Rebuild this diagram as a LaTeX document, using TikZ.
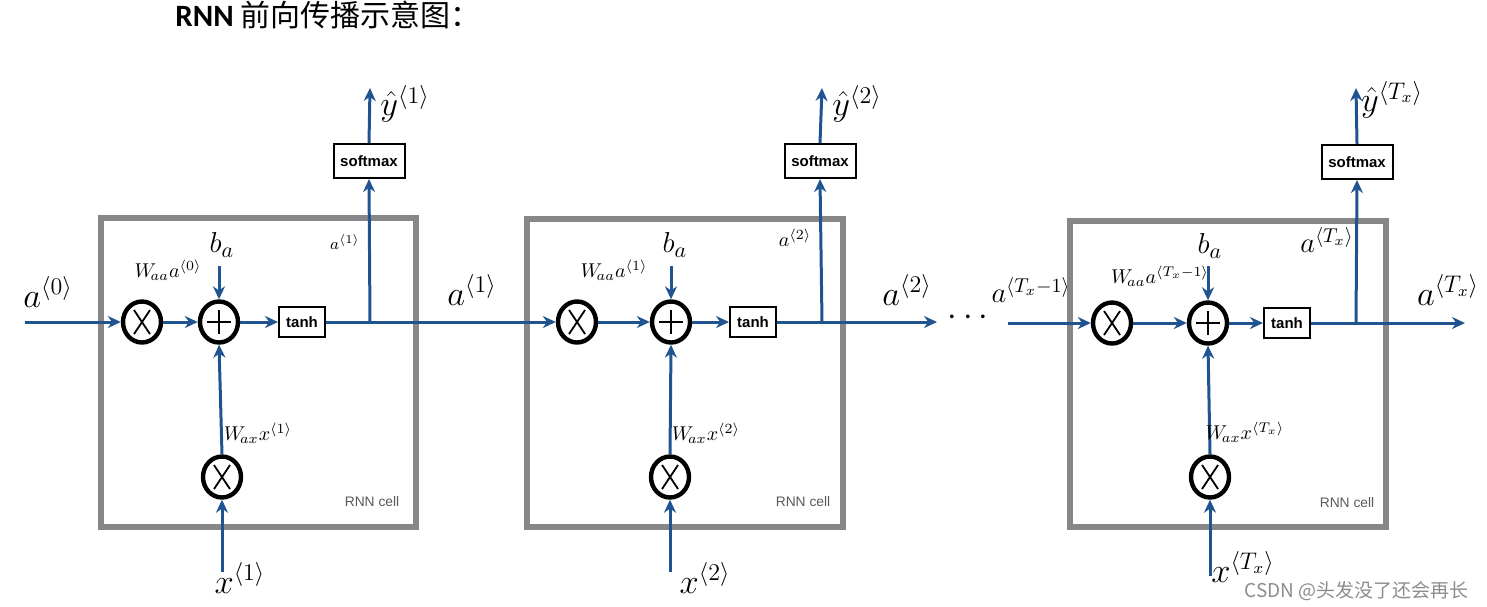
\documentclass[tikz,border=0pt]{standalone}
\usepackage{fontspec}
\setsansfont{Liberation Sans}
\newfontfamily\cjk{Noto Sans CJK SC}
\newfontfamily\titlefont{Carlito}
\usetikzlibrary{arrows.meta,shapes.geometric,calc}
\definecolor{flowblue}{RGB}{31,84,145}
\definecolor{cellgray}{RGB}{135,135,138}
\newcommand\fsz[1]{\fontsize{#1}{#1}\selectfont}
\begin{document}
\begin{tikzpicture}[x=0.5pt,y=-0.5pt,
 flow/.style={draw=flowblue,line width=1.5pt,-{Stealth[length=6.5pt,width=6pt]}},
 cellbox/.style={draw=cellgray,line width=2.6pt},
 op/.style={ellipse,draw=black,line width=2.2pt,minimum width=19pt,minimum height=20.5pt,inner sep=0pt},
 mul/.style={op,path picture={
   \draw[line width=0.9pt] ($(path picture bounding box.center)+(-8,-12)$) -- ($(path picture bounding box.center)+(8,12)$)
     ($(path picture bounding box.center)+(8,-12)$) -- ($(path picture bounding box.center)+(-8,12)$);}},
 add/.style={op,path picture={
   \draw[line width=1.1pt] ($(path picture bounding box.center)+(-12,0)$) -- ($(path picture bounding box.center)+(12,0)$)
     ($(path picture bounding box.center)+(0,-12)$) -- ($(path picture bounding box.center)+(0,12)$);}},
 fbox/.style={draw=black,line width=1pt,inner sep=0pt,font=\sffamily\bfseries\fsz{7.5}},
 tanhbox/.style={fbox,minimum width=23pt,minimum height=15pt},
 smbox/.style={fbox,minimum width=35.5pt,minimum height=17pt},
 big/.style={inner sep=0pt,font=\fsz{17}},
 blab/.style={inner sep=0pt,font=\fsz{15}},
 small/.style={inner sep=0pt,font=\fsz{10}},
 celllabel/.style={inner sep=0pt,text=black!65,font=\sffamily\fsz{6.9}}
]
\useasboundingbox (0,0) rectangle (1487,606);

% title
\node[anchor=base west,inner sep=0pt] (title) at (175,26)
  {{\titlefont\bfseries\fsz{15.5}RNN} {\cjk\fsz{15}前向传播示意图：}};

% cell boxes
\draw[cellbox] (101,218) rectangle (416,527);
\draw[cellbox] (527,219) rectangle (843,527);
\draw[cellbox] (1070,221) rectangle (1386,527);

% ---------- cell 1 ----------
\node[mul] (m1) at (142,322) {};
\node[add] (p1) at (219,322) {};
\node[tanhbox] (t1) at (302,322) {tanh};
\node[smbox] (s1) at (369,161) {softmax};
\node[mul] (x1) at (222,477) {};
\coordinate (in1) at (25,322);
\coordinate (br1) at (370,322);
\coordinate (yt1) at (370,88);
\coordinate (bi1) at (219,266);
\coordinate (xi1) at (222,572);

% ---------- cell 2 ----------
\node[mul] (m2) at (577,322) {};
\node[add] (p2) at (671,322) {};
\node[tanhbox] (t2) at (753,322) {tanh};
\node[smbox] (s2) at (820,161) {softmax};
\node[mul] (x2) at (670,477) {};
\coordinate (br2) at (822,322);
\coordinate (yt2) at (822,88);
\coordinate (bi2) at (671,266);
\coordinate (xi2) at (670,572);
\coordinate (out2) at (937,322);

% ---------- cell 3 ----------
\node[mul] (m3) at (1112,323) {};
\node[add] (p3) at (1208,323) {};
\node[tanhbox] (t3) at (1287,323) {tanh};
\node[smbox] (s3) at (1357,162) {softmax};
\node[mul] (x3) at (1210,477) {};
\coordinate (in3) at (1008,323);
\coordinate (br3) at (1356,323);
\coordinate (yt3) at (1356,88);
\coordinate (bi3) at (1208,266);
\coordinate (xi3) at (1210,576);
\coordinate (out3) at (1465,323);

% connectors
\draw[flow] (in1) -- (m1.west);
\draw[flow] (m1.east) -- (p1.west);
\draw[flow] (p1.east) -- (t1.west);
\draw[flow] (t1.east) -- (m2.west);
\draw[flow] (br1) -- (s1.south);
\draw[flow] (s1.north) -- (yt1);
\draw[flow] (bi1) -- (p1.north);
\draw[flow] (x1.north) -- (p1.south);
\draw[flow] (xi1) -- (x1.south);

\draw[flow] (m2.east) -- (p2.west);
\draw[flow] (p2.east) -- (t2.west);
\draw[flow] (t2.east) -- (out2);
\draw[flow] (br2) -- (s2.south);
\draw[flow] (s2.north) -- (yt2);
\draw[flow] (bi2) -- (p2.north);
\draw[flow] (x2.north) -- (p2.south);
\draw[flow] (xi2) -- (x2.south);

\draw[flow] (in3) -- (m3.west);
\draw[flow] (m3.east) -- (p3.west);
\draw[flow] (p3.east) -- (t3.west);
\draw[flow] (t3.east) -- (out3);
\draw[flow] (br3) -- (s3.south);
\draw[flow] (s3.north) -- (yt3);
\draw[flow] (bi3) -- (p3.north);
\draw[flow] (x3.north) -- (p3.south);
\draw[flow] (xi3) -- (x3.south);

\node[inner sep=0pt,font=\fsz{16}] (dots) at (968,318) {$\cdots$};

% labels cell 1
\node[big] (la0) at (48,292) {$a^{\langle 0\rangle}$};
\node[small] (lw1) at (168,270) {$W_{\!aa}a^{\langle 0\rangle}$};
\node[blab] (lb1) at (222,245) {$b_a$};
\node[small,font=\fsz{8}] (li1) at (345,242) {$a^{\langle 1\rangle}$};
\node[small] (lx1) at (258,433) {$W_{\!ax}x^{\langle 1\rangle}$};
\node[big] (lxi1) at (240,578) {$x^{\langle 1\rangle}$};
\node[big] (ly1) at (405,104) {$\hat{y}^{\langle 1\rangle}$};
\node[big] (la1) at (472,290) {$a^{\langle 1\rangle}$};
\node[celllabel] (c1) at (372,502) {RNN cell};

% labels cell 2
\node[small] (lw2) at (614,270) {$W_{\!aa}a^{\langle 1\rangle}$};
\node[blab] (lb2) at (675,245) {$b_a$};
\node[small] (li2) at (795,238) {$a^{\langle 2\rangle}$};
\node[small] (lx2) at (706,433) {$W_{\!ax}x^{\langle 2\rangle}$};
\node[big] (lxi2) at (705,578) {$x^{\langle 2\rangle}$};
\node[big] (ly2) at (857,104) {$\hat{y}^{\langle 2\rangle}$};
\node[big] (la2) at (907,290) {$a^{\langle 2\rangle}$};
\node[celllabel] (c2) at (803,502) {RNN cell};

% labels cell 3
\node[inner sep=0pt,font=\fsz{14}] (lam) at (1031,290) {$a^{\langle T_x-1\rangle}$};
\node[small] (lw3) at (1160,276) {$W_{\!aa}a^{\langle T_x-1\rangle}$};
\node[blab] (lb3) at (1210,246) {$b_a$};
\node[inner sep=0pt,font=\fsz{14}] (li3) at (1327,240) {$a^{\langle T_x\rangle}$};
\node[small] (lx3) at (1245,432) {$W_{\!ax}x^{\langle T_x\rangle}$};
\node[big] (lxi3) at (1243,567) {$x^{\langle T_x\rangle}$};
\node[big] (ly3) at (1392,100) {$\hat{y}^{\langle T_x\rangle}$};
\node[big] (la3) at (1448,290) {$a^{\langle T_x\rangle}$};
\node[celllabel] (c3) at (1347,503) {RNN cell};

% watermark
\node[anchor=west,inner sep=0pt,text=black!45,font=\cjk\fsz{9.5}] (wm) at (1244,591) {CSDN @头发没了还会再长};
\end{tikzpicture}
\end{document}
